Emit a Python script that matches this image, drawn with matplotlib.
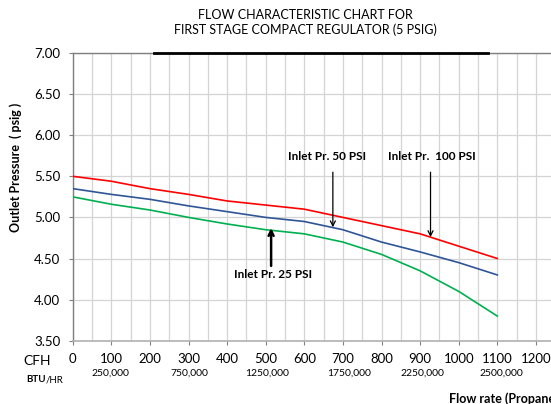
import matplotlib
matplotlib.use("Agg")
import matplotlib.pyplot as plt
from matplotlib.ticker import MultipleLocator

plt.rcParams['font.family'] = ['Lato', 'DejaVu Sans']

# ---- data ----
flow_cfh = [0, 100, 200, 300, 400, 500, 600, 700, 800, 900, 1000, 1100]
p_inlet_100 = [5.50, 5.44, 5.35, 5.28, 5.20, 5.15, 5.10, 5.00, 4.90, 4.80, 4.65, 4.50]
p_inlet_50 = [5.35, 5.28, 5.22, 5.14, 5.07, 5.00, 4.95, 4.85, 4.70, 4.58, 4.45, 4.30]
p_inlet_25 = [5.25, 5.16, 5.09, 5.00, 4.92, 4.85, 4.80, 4.70, 4.55, 4.35, 4.10, 3.80]

cfh_ticks = [0, 100, 200, 300, 400, 500, 600, 700, 800, 900, 1000, 1100, 1200]
btu_labels = ['250,000', '750,000', '1250,000', '1750,000', '2250,000', '2500,000']
btu_pos = [99, 301, 504, 717, 907, 1110]
y_ticks = [3.50, 4.00, 4.50, 5.00, 5.50, 6.00, 6.50, 7.00]

ann_labels = ['Inlet Pr. 50 PSI', 'Inlet Pr.  100 PSI', 'Inlet Pr. 25 PSI']
ann_text_xy = [(658, 5.74), (931, 5.74), (520, 4.31)]
ann_tail = [(674, 5.55), (927, 5.55), (514, 4.41)]
ann_head = [(674, 4.88), (927, 4.76), (514, 4.87)]
ann_lw = [0.9, 0.9, 1.8]

W, H = 551, 404
fig = plt.figure(figsize=(W / 100, H / 100), dpi=100)
left_px, right_px = 72.7, 72.7 + 13 * 38.6
top_px, bot_px = 53.0, 340.7
ax = fig.add_axes([left_px / W, 1 - bot_px / H, (right_px - left_px) / W, (bot_px - top_px) / H])

ax.set_xlim(0, 1300)
ax.set_ylim(3.5, 7.0)

ax.xaxis.set_minor_locator(MultipleLocator(50))
ax.set_xticks(cfh_ticks)
ax.set_xticklabels([str(v) for v in cfh_ticks], fontsize=9.5)
ax.set_yticks(y_ticks)
ax.set_yticklabels([f"{v:.2f}" for v in y_ticks], fontsize=9.5)
ax.grid(which='both', axis='x', color='#d4d4d4', lw=0.9)
ax.grid(which='major', axis='y', color='#d4d4d4', lw=0.9)
ax.set_axisbelow(True)
ax.tick_params(axis='both', which='major', length=3, width=0.8, color='#808080', pad=6)
ax.tick_params(axis='x', which='minor', length=0)

ax.spines['left'].set_color('#7f7f7f')
ax.spines['left'].set_linewidth(1.0)
ax.spines['bottom'].set_color('#b0b0b0')
ax.spines['bottom'].set_linewidth(1.2)
ax.spines['top'].set_color('#7f7f7f')
ax.spines['top'].set_linewidth(1.0)
ax.spines['right'].set_visible(False)

# thick black segment on the top border
ax.plot([210, 1076], [7.0, 7.0], color='black', lw=2.0, clip_on=False, zorder=5)

ax.plot(flow_cfh, p_inlet_100, color='#ff0000', lw=1.2, zorder=3)
ax.plot(flow_cfh, p_inlet_50, color='#2f5597', lw=1.2, zorder=3)
ax.plot(flow_cfh, p_inlet_25, color='#00b050', lw=1.2, zorder=3)

for lab, txy, tail, head, lw in zip(ann_labels, ann_text_xy, ann_tail, ann_head, ann_lw):
    ax.text(txy[0], txy[1], lab, ha='center', va='center', fontsize=8.5, fontweight='bold')
    ax.annotate('', xy=head, xytext=tail,
                arrowprops=dict(arrowstyle='->', color='black', lw=lw,
                                shrinkA=0, shrinkB=0, mutation_scale=9))

# BTU/HR secondary labels below the CFH tick labels
btu_y = 3.5 - (373 - bot_px) / 82.2
for lab, xp in zip(btu_labels, btu_pos):
    ax.text(xp, btu_y, lab, ha='center', va='center', fontsize=7.5, clip_on=False)

fig.text(37 / W, 1 - 361 / H, 'CFH', ha='center', va='center', fontsize=10)
fig.text(26 / W, 1 - 380 / H, 'BTU', ha='left', va='center', fontsize=7, fontweight='bold')
fig.text(45.5 / W, 1 - 380 / H, '/HR', ha='left', va='center', fontsize=7)
fig.text(449 / W, 1 - 399 / H, 'Flow rate (Propane)', ha='left', va='center',
         fontsize=9, fontweight='bold')
fig.text(16 / W, 1 - 167 / H, 'Outlet Pressure  ( psig )', rotation=90, ha='center',
         va='center', fontsize=9, fontweight='bold')
fig.text(305 / W, 1 - 15 / H, 'FLOW CHARACTERISTIC CHART FOR', ha='center', va='center',
         fontsize=9)
fig.text(305 / W, 1 - 30 / H, 'FIRST STAGE COMPACT REGULATOR (5 PSIG)', ha='center',
         va='center', fontsize=9)

fig.savefig('out.png', dpi=100)
